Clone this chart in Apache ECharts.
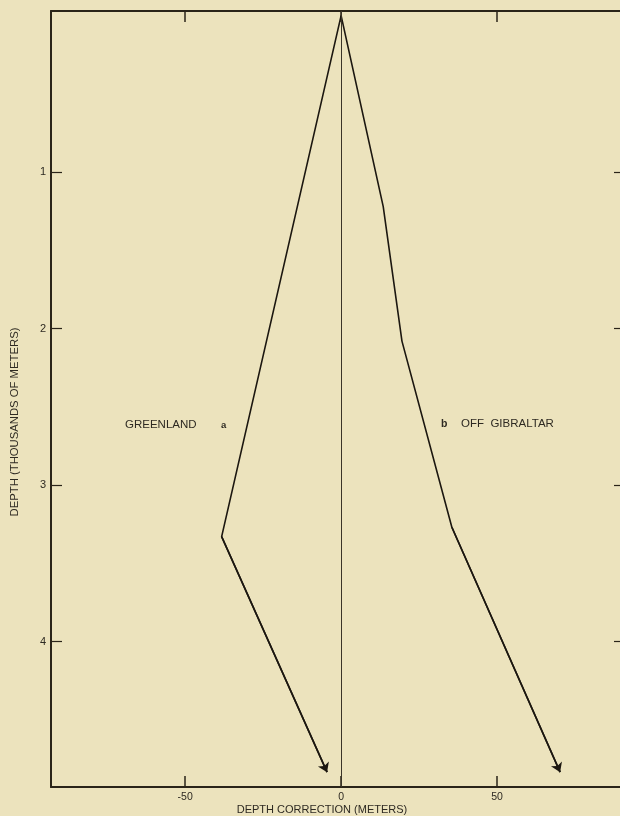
<!DOCTYPE html>
<html>
<head>
<meta charset="utf-8">
<script src="https://cdn.jsdelivr.net/npm/echarts@6/dist/echarts.min.js"></script>
<style>
html,body{margin:0;padding:0;background:#ece3bd;}
#chart{width:620px;height:816px;}
</style>
</head>
<body>
<div id="chart"></div>
<script>
// ---- data ----
var greenlandCorrection = [0, -38.3, -4.5];      // metres
var greenlandDepth      = [0, 3.33, 4.835];       // thousands of metres
var gibraltarCorrection = [0, 13.5, 19.5, 35.5, 70.2];
var gibraltarDepth      = [0, 1.22, 2.08, 3.27, 4.835];
var xTicks = [-50, 0, 50];
var yTicks = [1, 2, 3, 4];
var xTitle = 'DEPTH CORRECTION (METERS)';
var yTitle = 'DEPTH (THOUSANDS OF METERS)';
var labelA = 'GREENLAND';
var labelB = 'OFF  GIBRALTAR';

function pairs(xs, ys){ return xs.map(function(x,i){ return [x, ys[i]]; }); }
var greenData = pairs(greenlandCorrection, greenlandDepth);
var gibData = pairs(gibraltarCorrection, gibraltarDepth);

var ink = '#1c1710';
var frame = '#2a2418';
var txt = '#2e2a22';
var font = 'Liberation Sans, Arial, sans-serif';

function arrowMark(d){
  var n = d.length;
  return {
    silent: true,
    symbol: ['none', 'arrow'],
    symbolSize: 9,
    label: {show: false},
    lineStyle: {color: ink, width: 1.6, type: 'solid'},
    data: [[{coord: d[n-2]}, {coord: d[n-1]}]]
  };
}

function axisLine(){ return {show: true, onZero: false, lineStyle: {color: frame, width: 2}}; }

var chart = echarts.init(document.getElementById('chart'), null, {renderer: 'canvas'});
chart.setOption({
  backgroundColor: '#ece3bd',
  animation: false,
  grid: {left: 51, top: 11, width: 574, height: 776, outerBoundsMode: 'none', containLabel: false},
  xAxis: [{
    type: 'value', position: 'bottom', min: -93, max: 91,
    axisLine: axisLine(),
    axisTick: {show: true, inside: true, length: 11, customValues: xTicks, lineStyle: {color: frame, width: 1.5}},
    axisLabel: {show: true, customValues: xTicks, margin: 5, fontSize: 10.5, color: txt, fontFamily: font},
    splitLine: {show: false}
  },{
    type: 'value', position: 'top', min: -93, max: 91,
    axisLine: axisLine(),
    axisTick: {show: true, inside: true, length: 11, customValues: xTicks, lineStyle: {color: frame, width: 1.5}},
    axisLabel: {show: false},
    splitLine: {show: false}
  }],
  yAxis: [{
    type: 'value', position: 'left', inverse: true, min: -0.03, max: 4.93,
    axisLine: axisLine(),
    axisTick: {show: true, inside: true, length: 11, customValues: yTicks, lineStyle: {color: frame, width: 1.2}},
    axisLabel: {show: true, customValues: yTicks, margin: 5, fontSize: 11, color: txt, fontFamily: font},
    splitLine: {show: false}
  },{
    type: 'value', position: 'right', inverse: true, min: -0.03, max: 4.93,
    axisLine: axisLine(),
    axisTick: {show: true, inside: true, length: 11, customValues: yTicks, lineStyle: {color: frame, width: 1.2}},
    axisLabel: {show: false},
    splitLine: {show: false}
  }],
  series: [{
    name: 'Greenland', type: 'line', data: greenData,
    symbol: 'none', lineStyle: {color: ink, width: 1.6},
    z: 3,
    markLine: arrowMark(greenData)
  },{
    name: 'Off Gibraltar', type: 'line', data: gibData,
    symbol: 'none', lineStyle: {color: ink, width: 1.6},
    z: 3,
    markLine: arrowMark(gibData)
  },{
    name: 'zero', type: 'line', data: [],
    markLine: {
      silent: true, symbol: ['none','none'], label: {show: false},
      lineStyle: {color: '#3a3428', width: 1, type: 'solid'},
      data: [{xAxis: 0}]
    }
  }],
  graphic: [
    {type: 'text', x: 322, y: 810, style: {text: xTitle, font: '11px ' + font, fill: txt, textAlign: 'center', textVerticalAlign: 'middle'}},
    {type: 'text', x: 15, y: 422, rotation: Math.PI/2, style: {text: yTitle, font: '11.3px ' + font, fill: txt, textAlign: 'center', textVerticalAlign: 'middle'}},
    {type: 'text', x: 125, y: 425, style: {text: labelA, font: '11.5px ' + font, fill: txt, textVerticalAlign: 'middle'}},
    {type: 'text', x: 221, y: 425, style: {text: 'a', font: 'bold 9.5px ' + font, fill: txt, textVerticalAlign: 'middle'}},
    {type: 'text', x: 441, y: 424, style: {text: 'b', font: 'bold 10.5px ' + font, fill: txt, textVerticalAlign: 'middle'}},
    {type: 'text', x: 461, y: 424, style: {text: labelB, font: '11.5px ' + font, fill: txt, textVerticalAlign: 'middle'}}
  ]
});
</script>
</body>
</html>
